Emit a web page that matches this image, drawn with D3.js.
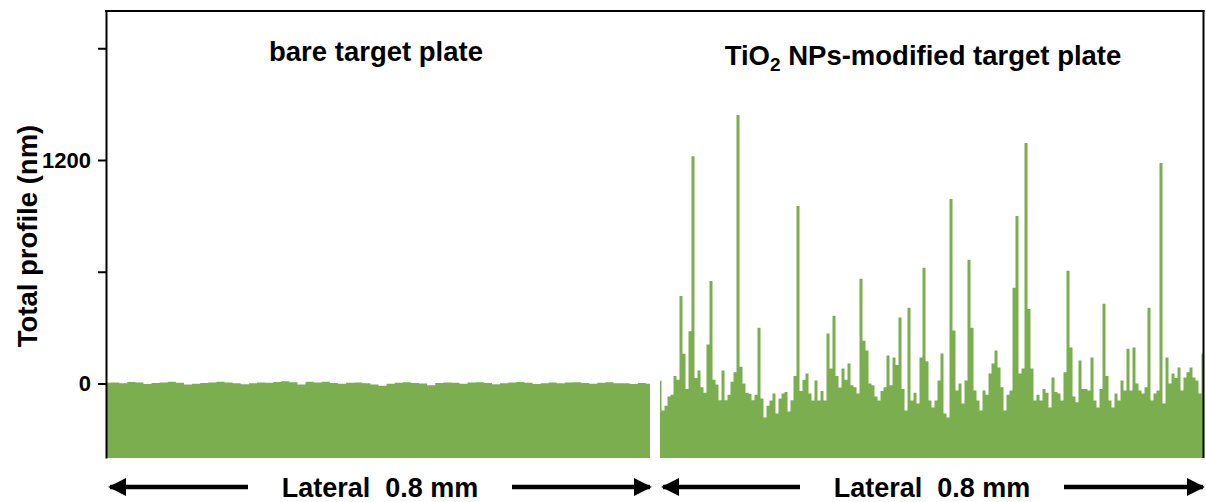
<!DOCTYPE html>
<html>
<head>
<meta charset="utf-8">
<script src="https://cdn.jsdelivr.net/npm/d3@7"></script>
<style>
  html, body { margin: 0; padding: 0; background: #fff; }
  svg { display: block; }
  text { font-family: Arial, "Liberation Sans", sans-serif; font-weight: bold; fill: #000; }
</style>
</head>
<body>
<svg id="chart" width="1206" height="502"></svg>
<script>
// Surface height profiles (nm) sampled across a 0.8 mm lateral scan
const bareProfile = [
  4, 6, 2, 8, 5, -3, 3, 6, 9, 4, -6, -2, 3, 5, 10, 6, 2, -4, 1, 5,
  4, 8, 12, 7, -6, 10, 6, 9, 3, -2, 4, 6, 2, -5, -12, -2, 4, 7, 3, 0,
  -9, 3, 6, 4, -1, 5, 7, 3, -4, 2, 5, 8, 4, -3, 2, 5, 1, 6, 7, 3,
  -2, 4, 7, 2, 1, -3, 3, -2
];
const tio2Profile = [
  15, -145, -120, -70, -60, 40, 20, 470, 160, -30,
  280, 1220, 30, 70, -20, -50, 210, 550, 20, -5,
  -90, 70, -90, -60, 10, 60, 1441, 90, 0, -50,
  -55, -90, -60, 300, -80, -182, -120, -91, -54, -161,
  -80, -54, -45, -150, -90, 40, 953, -40, 20, 54,
  -54, -91, 16, -91, -40, -91, 268, 80, 364, 40,
  -21, 80, 20, 107, -10, -20, -54, 562, 230, 177,
  0, -10, -70, -91, -40, -20, 150, -10, 139, 100,
  354, -30, -145, 407, -91, -50, -107, 139, 621, 120,
  -91, -129, -91, 16, 161, -161, -182, 991, 284, -37,
  0, -107, 16, 664, 300, -37, -91, -145, -37, -60,
  54, 107, 177, 86, -20, -145, -60, -37, 514, 900,
  54, 80, 1291, 400, 80, -91, -60, -91, -30, -50,
  -129, 32, -45, -54, -91, 60, 605, 193, -70, -100,
  123, -30, -30, -37, 139, -91, -129, -30, 428, 40,
  -91, -129, -54, -91, 16, -37, 187, -37, 193, 0,
  -37, -54, -20, 407, -91, -54, -37, 1184, -107, 139,
  0, 54, 30, 86, -37, 32, 60, 86, 32, 16,
  -54, 161
];
const scanLength = 0.8; // mm
const yTicks = [0, 600, 1200, 1800];
const yTickLabels = ["0", "", "1200", ""];
const panelTitles = ["bare target plate", "NPs-modified target plate"];
const lateralLabel = "Lateral  0.8 mm";
const yLabel = "Total profile (nm)";

const fillGreen = "#7aae4f";
const fontFamily = "Arial, 'Liberation Sans', sans-serif";

const svg = d3.select("#chart");
const defs = svg.append("defs");

const y = d3.scaleLinear().domain([-400, 2000]).range([458, 11]);
const xBare = d3.scaleLinear().domain([0, scanLength]).range([107, 650]);
const xTio2 = d3.scaleLinear().domain([0, scanLength]).range([660, 1203]);

// one clip rectangle per panel so the step ends stay inside the scan range
[["clipBare", xBare], ["clipTio2", xTio2]].forEach(([id, xs]) => {
  defs.append("clipPath").attr("id", id)
    .append("rect")
    .attr("x", xs(0)).attr("y", 0)
    .attr("width", xs(scanLength) - xs(0)).attr("height", 502);
});

function profilePath(values, xs, clipId) {
  const step = scanLength / (values.length - 1);
  const pts = values.map((v, i) => ({ pos: i * step, h: v }));
  const area = d3.area()
    .x(d => xs(d.pos))
    .y0(y(-400))
    .y1(d => y(d.h))
    .curve(d3.curveStep);
  svg.append("path")
    .datum(pts)
    .attr("fill", fillGreen)
    .attr("clip-path", `url(#${clipId})`)
    .attr("d", area);
}

profilePath(bareProfile, xBare, "clipBare");
profilePath(tio2Profile, xTio2, "clipTio2");

// Frame: left axis, top and right borders
const yAxis = d3.axisLeft(y)
  .tickValues(yTicks)
  .tickFormat((d, i) => yTickLabels[i])
  .tickSize(8)
  .tickSizeOuter(0);
const gAxis = svg.append("g").attr("transform", "translate(106,0)").call(yAxis);
gAxis.select(".domain").attr("stroke", "#000").attr("stroke-width", 2);
gAxis.selectAll(".tick line").attr("stroke", "#000").attr("stroke-width", 2);
gAxis.selectAll(".tick text")
  .attr("x", -15)
  .style("font-size", "22px")
  .style("font-family", fontFamily)
  .style("font-weight", "bold")
  .attr("fill", "#000");

svg.append("line").attr("x1", 105).attr("x2", 1204.5).attr("y1", 11).attr("y2", 11)
  .attr("stroke", "#000").attr("stroke-width", 2);
svg.append("line").attr("x1", 1203.5).attr("x2", 1203.5).attr("y1", 10).attr("y2", 458)
  .attr("stroke", "#000").attr("stroke-width", 2);

// Y axis title
svg.append("text")
  .attr("transform", "translate(37,236) rotate(-90)")
  .attr("text-anchor", "middle")
  .style("font-size", "27.5px")
  .text(yLabel);

// Panel titles
svg.append("text")
  .attr("x", 376).attr("y", 61)
  .attr("text-anchor", "middle")
  .style("font-size", "27.5px")
  .text(panelTitles[0]);

const t2 = svg.append("text")
  .attr("x", 923).attr("y", 65)
  .attr("text-anchor", "middle")
  .style("font-size", "27.5px");
t2.append("tspan").text("TiO");
t2.append("tspan").attr("dy", 6).style("font-size", "19px").text("2");
t2.append("tspan").attr("dy", -6).text(" " + panelTitles[1]);

// Lateral scale arrows under each panel
defs.append("marker").attr("id", "head")
  .attr("viewBox", "0 0 10 10").attr("refX", 9).attr("refY", 5)
  .attr("markerWidth", 4).attr("markerHeight", 4)
  .attr("markerUnits", "strokeWidth")
  .attr("orient", "auto")
  .append("path").attr("d", "M0,0 L10,5 L0,10 Z").attr("fill", "#000");

function lateralArrows(xs, cx) {
  const yA = 487;
  const gapHalf = 132;
  svg.append("line")
    .attr("x1", cx - gapHalf).attr("x2", xs(0) + 3)
    .attr("y1", yA).attr("y2", yA)
    .attr("stroke", "#000").attr("stroke-width", 4.5)
    .attr("marker-end", "url(#head)");
  svg.append("line")
    .attr("x1", cx + gapHalf).attr("x2", xs(scanLength))
    .attr("y1", yA).attr("y2", yA)
    .attr("stroke", "#000").attr("stroke-width", 4.5)
    .attr("marker-end", "url(#head)");
  svg.append("text")
    .attr("x", cx).attr("y", 497)
    .attr("text-anchor", "middle")
    .attr("xml:space", "preserve")
    .style("white-space", "pre")
    .style("font-size", "27px")
    .text(lateralLabel);
}
lateralArrows(xBare, 380);
lateralArrows(xTio2, 932);
</script>
</body>
</html>
